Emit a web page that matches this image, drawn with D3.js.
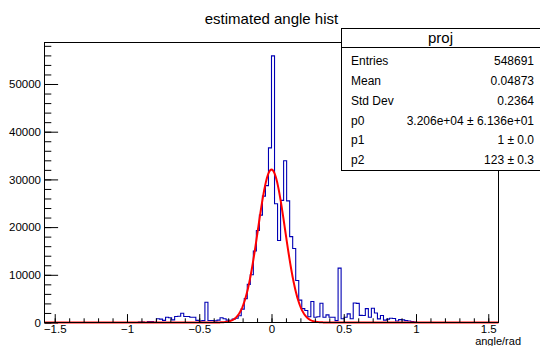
<!DOCTYPE html>
<html><head><meta charset="utf-8">
<script src="https://cdn.jsdelivr.net/npm/d3@7"></script>
<style>
body{margin:0;background:#fff}
svg{display:block;font-family:"Liberation Sans",Arial,Helvetica,sans-serif}
</style>
</head><body>
<svg id="c" width="540" height="346"></svg>
<script>
// ---------------- data ----------------
const chartTitle = "estimated angle hist";
const xAxisTitle = "angle/rad";
const xRange = [-Math.PI / 2, Math.PI / 2];
const nBins = 150;
const binValues = [
  0,0,0,0,0,0,0,0,0,0,
  0,0,0,0,0,0,0,0,0,0,
  0,0,0,0,0,0,0,0,0,0,
  0,70,100,0,200,200,50,800,700,450,
  1100,1000,550,1250,1300,1950,1250,1250,1100,1100,
  450,300,400,4250,420,420,350,500,1000,800,
  500,450,700,900,1400,2800,5000,8000,10000,15000,
  19300,22500,26500,28700,36600,55900,24900,17200,25600,33900,
  25500,18000,15500,8800,4700,2900,2500,1200,4400,1100,
  1200,4050,1100,1600,1100,1100,400,11400,800,1100,
  1800,800,4100,4000,1500,1470,2900,1100,3000,2000,
  750,1470,500,700,900,850,300,600,550,400,
  300,200,100,0,0,0,0,0,0,0,
  0,0,0,0,0,0,0,0,0,0,
  0,0,0,0,0,0,0,0,0,0
];
const xTickValues = [-1.5, -1, -0.5, 0, 0.5, 1, 1.5];
const yTickValues = [0, 10000, 20000, 30000, 40000, 50000];
const yMax = 58700;
const statsTitle = "proj";
const statsLabels = ["Entries", "Mean", "Std Dev", "p0", "p1", "p2"];
const statsValues = ["548691", "0.04873", "0.2364", "3.206e+04 \u00b1 6.136e+01", "1 \u00b1 0.0", "123 \u00b1 0.3"];
const fitAmp = 32060, fitMean = 0.0, fitSigma = 0.094;

// ---------------- layout ----------------
const L = 44.5, R = 498.5, T = 42.5, B = 322.5;
const svg = d3.select("#c");
const x = d3.scaleLinear().domain(xRange).range([L, R]);
const y = d3.scaleLinear().domain([0, yMax]).range([B, T]);
const binW = (xRange[1] - xRange[0]) / nBins;
const FONT = "Liberation Sans, Arial, sans-serif";

// title
svg.append("text").attr("x", (L + R) / 2).attr("y", 19).attr("dy", "0.35em")
  .attr("text-anchor", "middle").attr("font-size", 15).text(chartTitle);

// histogram outline
let d = `M${x(xRange[0])},${y(0)}`;
binValues.forEach((v, i) => {
  const x0 = x(xRange[0] + i * binW), x1 = x(xRange[0] + (i + 1) * binW);
  d += `L${x0},${y(v)}L${x1},${y(v)}`;
});
d += `L${x(xRange[1])},${y(0)}`;
svg.append("path").attr("d", d).attr("fill", "none")
  .attr("stroke", "#0000b4").attr("stroke-width", 1.1);

// fit curve
const fx = d3.range(0, 801).map(i => xRange[0] + (xRange[1] - xRange[0]) * i / 800);
const line = d3.line().x(t => x(t)).y(t => y(fitAmp * Math.exp(-0.5 * Math.pow((t - fitMean) / fitSigma, 2))));
svg.append("path").attr("d", line(fx)).attr("fill", "none")
  .attr("stroke", "#ff0000").attr("stroke-width", 2);

// frame
svg.append("rect").attr("x", L).attr("y", T).attr("width", R - L).attr("height", B - T)
  .attr("fill", "none").attr("stroke", "#000").attr("stroke-width", 1);

// y axis minor ticks
const yMinor = d3.range(0, yMax, 2000);
svg.append("g").attr("transform", `translate(${L},0)`)
  .call(d3.axisLeft(y).tickValues(yMinor).tickSize(-6.8).tickSizeOuter(0).tickFormat(""))
  .call(g => g.select(".domain").remove());
// y axis major
svg.append("g").attr("transform", `translate(${L},0)`)
  .call(d3.axisLeft(y).tickValues(yTickValues).tickSize(-13.6).tickSizeOuter(0).tickPadding(3.5).tickFormat(d3.format("d")))
  .call(g => g.select(".domain").remove())
  .call(g => g.selectAll("text").attr("font-size", 11.5).attr("fill", "#000").attr("font-family", FONT));

// x axis minor
const xMinor = d3.range(-15, 16).map(v => v / 10);
svg.append("g").attr("transform", `translate(0,${B})`)
  .call(d3.axisBottom(x).tickValues(xMinor).tickSize(-4.2).tickSizeOuter(0).tickFormat(""))
  .call(g => g.select(".domain").remove());
// x axis major
svg.append("g").attr("transform", `translate(0,${B})`)
  .call(d3.axisBottom(x).tickValues(xTickValues).tickSize(-8.4).tickSizeOuter(0).tickPadding(2.5).tickFormat(d3.format("~g")))
  .call(g => g.select(".domain").remove())
  .call(g => g.selectAll("text").attr("font-size", 11.5).attr("fill", "#000").attr("font-family", FONT));

// bottom axis line on top
svg.append("line").attr("x1", L).attr("x2", R).attr("y1", B).attr("y2", B)
  .attr("stroke", "#000").attr("stroke-width", 1);

// x axis title
svg.append("text").attr("x", 521).attr("y", 345).attr("text-anchor", "end")
  .attr("font-size", 11).text(xAxisTitle);

// stats box
const sx = 341.5, sy = 28.5, sw = 200, sh = 142;
const sg = svg.append("g");
sg.append("rect").attr("x", sx).attr("y", sy).attr("width", sw).attr("height", sh)
  .attr("fill", "#fff").attr("stroke", "#000").attr("stroke-width", 1);
sg.append("line").attr("x1", sx).attr("x2", sx + sw).attr("y1", 47.5).attr("y2", 47.5)
  .attr("stroke", "#000").attr("stroke-width", 1);
sg.append("text").attr("x", 440.5).attr("y", 37.5).attr("dy", "0.35em")
  .attr("text-anchor", "middle").attr("font-size", 15).text(statsTitle);
statsLabels.forEach((lab, i) => {
  const cy = 61 + i * 19.8;
  sg.append("text").attr("x", 351).attr("y", cy).attr("dy", "0.35em")
    .attr("font-size", 12).text(lab);
  sg.append("text").attr("x", 534).attr("y", cy).attr("dy", "0.35em")
    .attr("text-anchor", "end").attr("font-size", 12).text(statsValues[i]);
});
</script>
</body></html>
